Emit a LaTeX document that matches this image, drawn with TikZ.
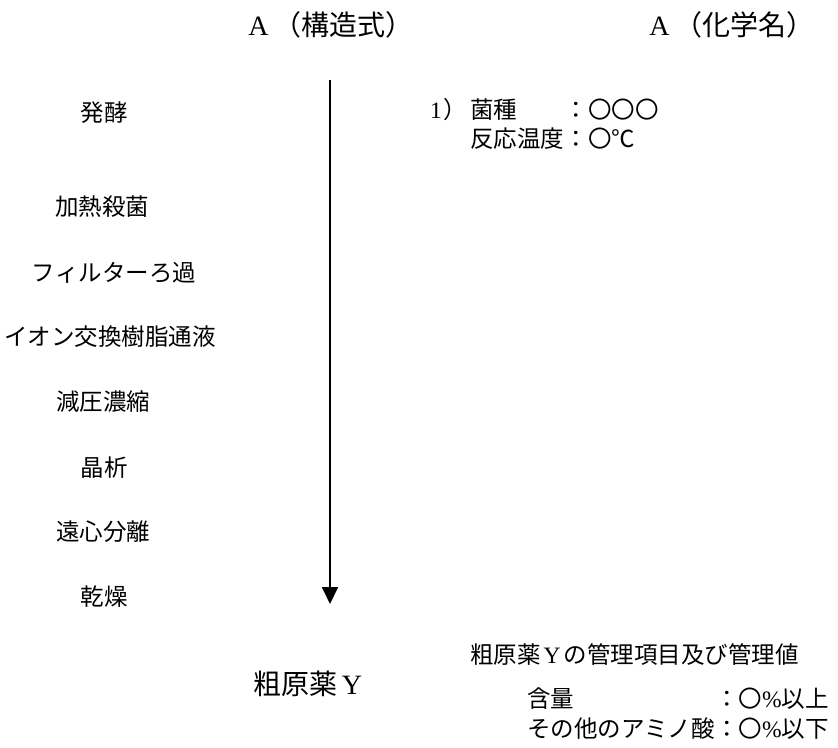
\documentclass[tikz,border=0pt]{standalone}
\usepackage{fontspec}
\setmainfont{Liberation Serif}
\newfontfamily\jp{Noto Sans CJK JP}
\usetikzlibrary{arrows.meta}
\tikzset{
  lbl/.style={inner sep=0pt, font=\fontsize{23.5}{26}\selectfont\jp},
  ttl/.style={inner sep=0pt, font=\fontsize{28}{30}\selectfont},
  big/.style={inner sep=0pt, font=\fontsize{28}{30}\selectfont},
  rt/.style={inner sep=0pt, anchor=west, font=\fontsize{23.5}{26}\selectfont\jp},
  flow/.style={line width=1.8pt, -{Triangle[length=17pt,width=16pt]}}
}
\begin{document}
\begin{tikzpicture}[x=1pt,y=-1pt]
\useasboundingbox (0,0) rectangle (838,747);
% titles
\node[ttl] (t1) at (331,25) {A\hspace{5pt}{\jp （構造式）}};
\node[ttl] (t2) at (732,25) {A\hspace{5pt}{\jp （化学名）}};
% arrow
\coordinate (top) at (330,80);
\coordinate (bot) at (330,604);
\draw[flow] (top) -- (bot);
% steps
\node[lbl] (s1) at (104,113) {発酵};
\node[lbl] (s2) at (102,207) {加熱殺菌};
\node[lbl] (s3) at (114,273) {フィルターろ過};
\node[lbl] (s4) at (110,337) {イオン交換樹脂通液};
\node[lbl] (s5) at (103,402) {減圧濃縮};
\node[lbl] (s6) at (104,468) {晶析};
\node[lbl] (s7) at (103,532) {遠心分離};
\node[lbl] (s8) at (104,597) {乾燥};
% conditions
\node[rt] (c0) at (430,110) {{\rmfamily 1}\hspace{2pt}）};
\node[rt] (c1) at (470,110) {菌種};
\node[rt] (c3) at (470,139) {反応温度};
\node[rt] (c2) at (c3.east |- c1.west) {：〇〇〇};
\node[rt] (c4) at (c3.east) {：〇℃};
% product
\node[big] (p) at (308,684) {{\jp 粗原薬}\hspace{4pt}Y};
\node[rt] (h) at (470,655) {粗原薬\hspace{3pt}{\rmfamily Y}\hspace{3pt}の管理項目及び管理値};
\node[rt] (k1) at (527,699) {含量};
\node[rt] (k2) at (527,729) {その他のアミノ酸};
\node[rt] (v1) at (k2.east |- k1.west) {：〇{\rmfamily\%}以上};
\node[rt] (v2) at (k2.east) {：〇{\rmfamily\%}以下};
\end{tikzpicture}
\end{document}
